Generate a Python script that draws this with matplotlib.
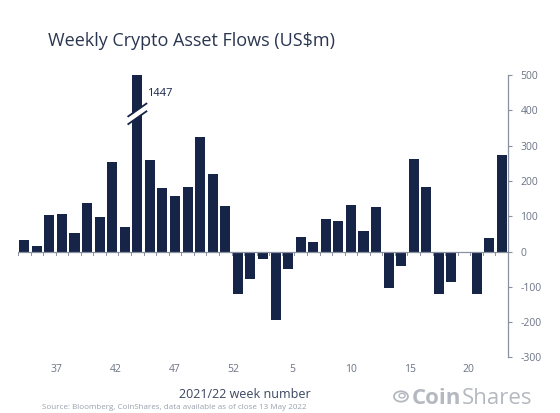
import matplotlib.pyplot as plt
import matplotlib.patches as mpatches
import numpy as np

# weekly flows US$m, week 33 2021 -> week 19 2022 (1447 is the record week, drawn broken)
flows = [33, 15, 103, 107, 52, 137, 99, 254, 70, 1447,
         259, 180, 156, 182, 325, 220, 130, -119, -78, -20,
         -195, -48, 40, 26, 92, 87, 133, 59, 125, -104,
         -41, 262, 183, -121, -87, -5, -119, 38, 274]
week_labels = ['37', '42', '47', '52', '5', '10', '15', '20']
y_ticks = [-300, -200, -100, 0, 100, 200, 300, 400, 500]
big_idx = 9

navy = '#152447'
grey = '#6b7385'
axis_grey = '#8a90a0'
logo_grey = '#b4b8c0'

plt.rcParams['font.family'] = ['Open Sans', 'DejaVu Sans']

fig = plt.figure(figsize=(5.6, 4.13), dpi=100)
ax = fig.add_axes([0.0321, 0.1344, 0.875, 0.684])

x = np.arange(len(flows))
ax.bar(x, flows, width=0.8, color=navy, zorder=2)
ax.set_xlim(-0.5, len(flows) - 0.5)
ax.set_ylim(-300, 500)

# zero line with small ticks between bars
ax.axhline(0, color=axis_grey, lw=0.9, zorder=3)
for b in np.arange(-0.5, len(flows), 1.0):
    ax.plot([b, b], [0, -9], color=axis_grey, lw=0.7, zorder=3)

# break marks on the record bar
bx = np.array([big_idx - 0.72, big_idx + 0.72])
by = np.array([372, 408])
ax.plot(bx, by, color='white', lw=4, solid_capstyle='butt', zorder=4)
ax.plot(bx, by - 11, color=navy, lw=1.3, zorder=5)
ax.plot(bx, by + 11, color=navy, lw=1.3, zorder=5)
ax.text(big_idx + 0.77, 449, str(flows[big_idx]), fontsize=8, color=navy,
        va='center', ha='left')

# right y axis
for s in ['top', 'left', 'bottom']:
    ax.spines[s].set_visible(False)
ax.spines['right'].set_color(axis_grey)
ax.spines['right'].set_linewidth(0.9)
ax.yaxis.tick_right()
ax.set_yticks(y_ticks)
ax.set_yticklabels([str(v) for v in y_ticks])
ax.tick_params(axis='y', colors=axis_grey, labelcolor=grey, labelsize=7.5,
               length=3, width=0.8, pad=6)

# week labels sit on their own spacing
ax.set_xticks(np.linspace(2.58, 35.35, len(week_labels)))
ax.set_xticklabels(week_labels)
ax.tick_params(axis='x', length=0, labelcolor=grey, labelsize=7.5, pad=5)

fig.text(0.086, 0.90, 'Weekly Crypto Asset Flows (US$m)', fontsize=13,
         color='#2a3550', va='center', ha='left')
fig.text(0.438, 0.044, '2021/22 week number', fontsize=9, color='#3a4560',
         ha='center', va='center')
fig.text(0.075, 0.013, 'Source: Bloomberg, CoinShares, data available as of close 13 May 2022',
         fontsize=5.8, color='#9aa0ac', ha='left', va='center')

# logo
t_coin = fig.text(0.736, 0.036, 'Coin', fontsize=16, fontweight='bold',
                  color=logo_grey, ha='left', va='center')
fig.canvas.draw()
bb = t_coin.get_window_extent().transformed(fig.transFigure.inverted())
fig.text(bb.x1, 0.036, 'Shares', fontsize=16, color=logo_grey, ha='left', va='center')
logo = mpatches.Circle((0.716, 0.040), 0.0125, transform=fig.transFigure,
                       fill=False, ec=logo_grey, lw=1.3)
fig.add_artist(logo)
logo_in = mpatches.Circle((0.718, 0.042), 0.0055, transform=fig.transFigure,
                          fill=False, ec=logo_grey, lw=1.0)
fig.add_artist(logo_in)

fig.savefig('out.png', dpi=100)
